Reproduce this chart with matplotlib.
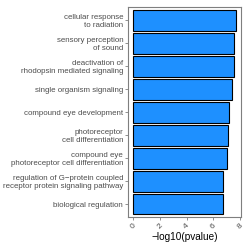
import matplotlib
matplotlib.use('Agg')
import matplotlib.pyplot as plt

# GO terms, top to bottom
terms = [
    'cellular response\nto radiation',
    'sensory perception\nof sound',
    'deactivation of\nrhodopsin mediated signaling',
    'single organism signaling',
    'compound eye development',
    'photoreceptor\ncell differentiation',
    'compound eye\nphotoreceptor cell differentiation',
    'regulation of G\u2212protein coupled\nreceptor protein signaling pathway',
    'biological regulation',
]
neglog_p = [7.70, 7.52, 7.52, 7.40, 7.15, 7.08, 7.00, 6.70, 6.70]
xticks = [0, 2, 4, 6, 8]

plt.rcParams['font.family'] = ['Liberation Sans', 'DejaVu Sans']

fig = plt.figure(figsize=(2.43, 2.43), dpi=100)
ax = fig.add_axes([0.528, 0.108, 0.4625, 0.8645])

ypos = list(range(len(terms)))[::-1]
ax.barh(ypos, neglog_p, height=0.9, color='#1E90FF', edgecolor='black', linewidth=0.8)

ax.set_yticks(ypos)
ax.set_yticklabels(terms, fontsize=5.7, color='#4D4D4D', linespacing=1.1)
ax.set_xticks(xticks)
ax.set_xticklabels([str(t) for t in xticks], fontsize=6, color='#4D4D4D', rotation=45,
                   ha='center', va='top')
ax.set_xlim(-0.375, 8.05)
ax.set_ylim(-0.55, len(terms) - 0.4)
ax.set_xlabel('\u2212log10(pvalue)', fontsize=7.2, labelpad=1.5)

for s in ax.spines.values():
    s.set_color('#7F7F7F')
    s.set_linewidth(0.8)
ax.tick_params(axis='both', colors='#7F7F7F', length=2.2, width=0.6, pad=1.5)
ax.tick_params(axis='both', labelcolor='#4D4D4D')

fig.savefig('out.png', dpi=100)
